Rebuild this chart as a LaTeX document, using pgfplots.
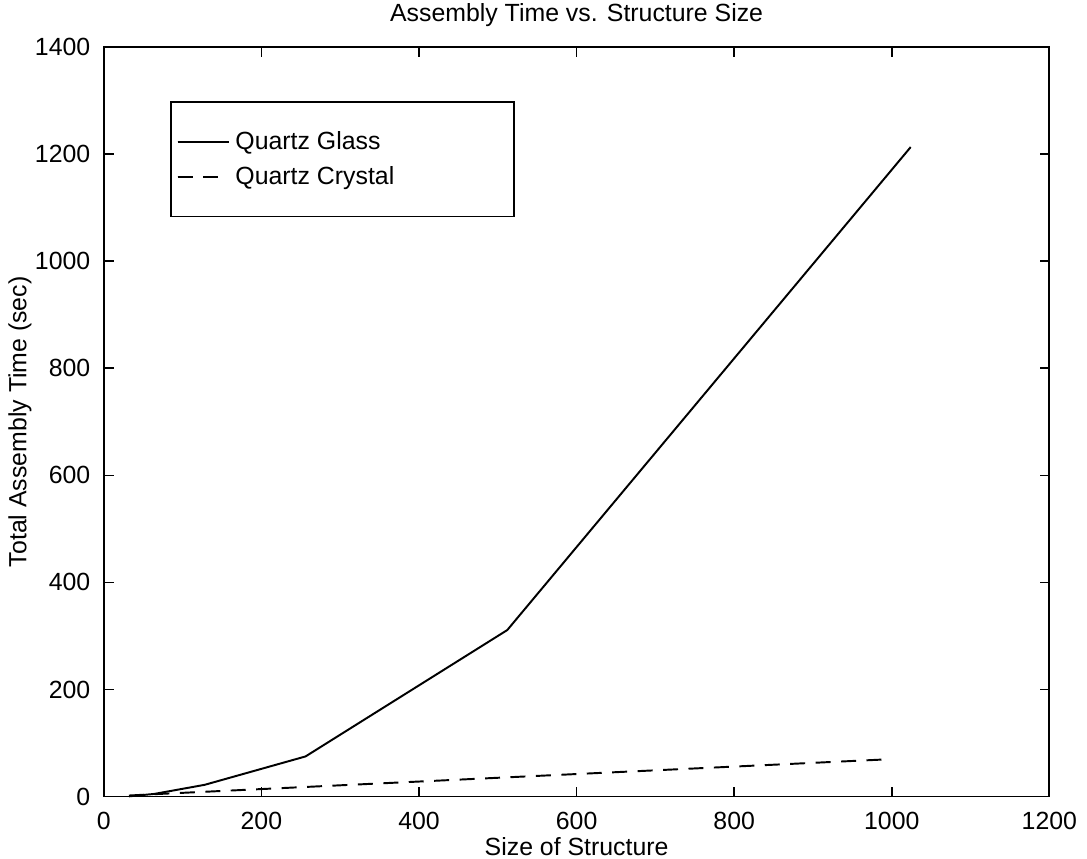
\documentclass[border=0pt]{standalone}
\usepackage{fontspec}
\setmainfont{Liberation Sans}
\usepackage{pgfplots}
\pgfplotsset{compat=1.18}

\begin{document}
\begin{tikzpicture}
\begin{axis}[
    width=315.7pt, height=250.3pt,
    scale only axis,
    xmin=0, xmax=1200, ymin=0, ymax=1400,
    xtick={0,200,...,1200}, ytick={0,200,...,1400},
    tick align=inside, major tick length=3.3pt,
    tick style={black, line width=0.5pt},
    axis line style={line width=0.6pt},
    font=\fontsize{8.3}{10}\selectfont,
    /pgf/number format/assume math mode=true,
    /pgf/number format/1000 sep={},
    scaled ticks=false,
    xticklabel style={yshift=-1.5pt},
    yticklabel style={xshift=-1pt},
    every axis title shift=0pt,
    title={Assembly Time vs. Structure Size},
    title style={at={(0.5,1.0426)}, anchor=center, inner sep=0pt},
    xlabel={Size of Structure},
    xlabel style={at={(0.5,-0.0666)}, anchor=center, inner sep=0pt},
    ylabel={Total Assembly Time (sec)},
    ylabel style={at={(-0.0887,0.5)}, anchor=center, inner sep=0pt},
    legend style={at={(rel axis cs:0.0697,0.928)}, anchor=north west,
      draw=black, line width=0.6pt, inner xsep=2pt, inner ysep=8.8pt,
      row sep=2.7pt, font=\fontsize{8.3}{10}\selectfont,
      cells={anchor=west},
      nodes={inner ysep=0pt, text height=7pt, text depth=2pt}},
    legend image code/.code={%
      \draw[#1] (0pt,0pt) -- (15pt,0pt);
      \path (0pt,0pt) -- (17pt,0pt);},
    clip=false,
  ]
  \addplot[black, line width=0.65pt] coordinates {
    (32,0.5) (64,5) (128,22) (256,75) (512,311) (1024,1213)
  };
  \addlegendentry{Quartz Glass}
  \addplot[black, line width=0.65pt, dash pattern=on 5pt off 3.5pt] coordinates {
    (32,2) (64,4.5) (128,9) (256,18) (512,36) (1000,70)
  };
  \addlegendentry{\makebox[89pt][l]{Quartz Crystal}}
  \path (rel axis cs:-0.1098,-0.0826) rectangle (rel axis cs:1.038,1.0626);
\end{axis}
\end{tikzpicture}
\end{document}
